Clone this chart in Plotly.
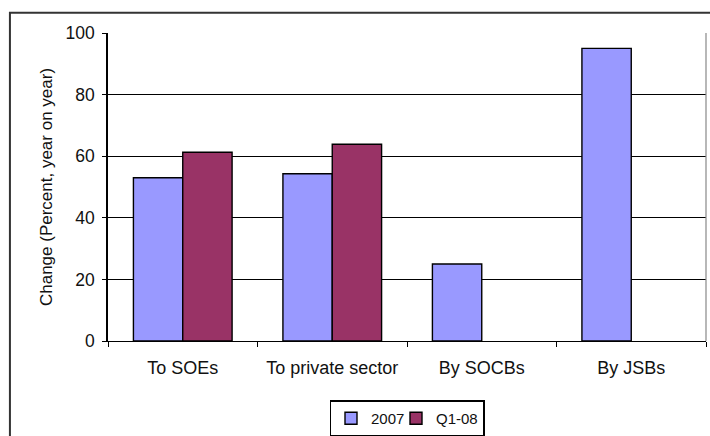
import plotly.graph_objects as go

categories = ["To SOEs", "To private sector", "By SOCBs", "By JSBs"]
series_2007 = [53, 54.3, 25, 95]
series_q108 = [61.3, 63.9, None, None]
y_ticks = [0, 20, 40, 60, 80, 100]

FONT = "Liberation Sans, Arial, sans-serif"

fig = go.Figure()
fig.add_trace(go.Bar(name="2007", x=categories, y=series_2007, legendwidth=20,
                     marker=dict(color="#9999FF", line=dict(color="black", width=1.4))))
fig.add_trace(go.Bar(name="Q1-08", x=categories, y=series_q108, legendwidth=42,
                     marker=dict(color="#993366", line=dict(color="black", width=1.4))))

fig.update_layout(
    width=710, height=436,
    margin=dict(l=108, r=4, t=33, b=94.5, autoexpand=False),
    paper_bgcolor="white", plot_bgcolor="white",
    barmode="group", bargap=0.34, bargroupgap=0,
    font=dict(family=FONT, size=17, color="#111"),
    showlegend=True,
    legend=dict(orientation="h", x=0.5, xanchor="center", y=-0.193, yanchor="top",
                bordercolor="black", borderwidth=1.5, font=dict(size=15),
                itemwidth=30, tracegroupgap=0, entrywidthmode="pixels"),
    xaxis=dict(showline=True, linecolor="black", linewidth=1.2, automargin=False,
               ticks="outside", tickson="boundaries", ticklen=5, tickcolor="black",
               showgrid=False, tickfont=dict(size=18), ticklabelstandoff=10),
    yaxis=dict(range=[0, 100], tickvals=y_ticks, showline=True, linecolor="black", linewidth=1.5,
               ticks="outside", ticklen=4, tickcolor="black", automargin=False,
               showgrid=True, gridcolor="black", gridwidth=1,
               zeroline=False, tickfont=dict(size=17.5), ticklabelstandoff=4,
               title=dict(text="Change (Percent, year on year)", font=dict(size=17), standoff=9)),
    shapes=[
        dict(type="line", xref="paper", yref="paper", x0=1, x1=1, y0=0, y1=1,
             line=dict(color="#888", width=1.2)),
        dict(type="rect", xref="paper", yref="paper", x0=-0.164, x1=1.2, y0=-0.5, y1=1.066,
             line=dict(color="#333", width=2), fillcolor="rgba(0,0,0,0)", layer="below"),
    ],
)

fig.write_html("out.html")
